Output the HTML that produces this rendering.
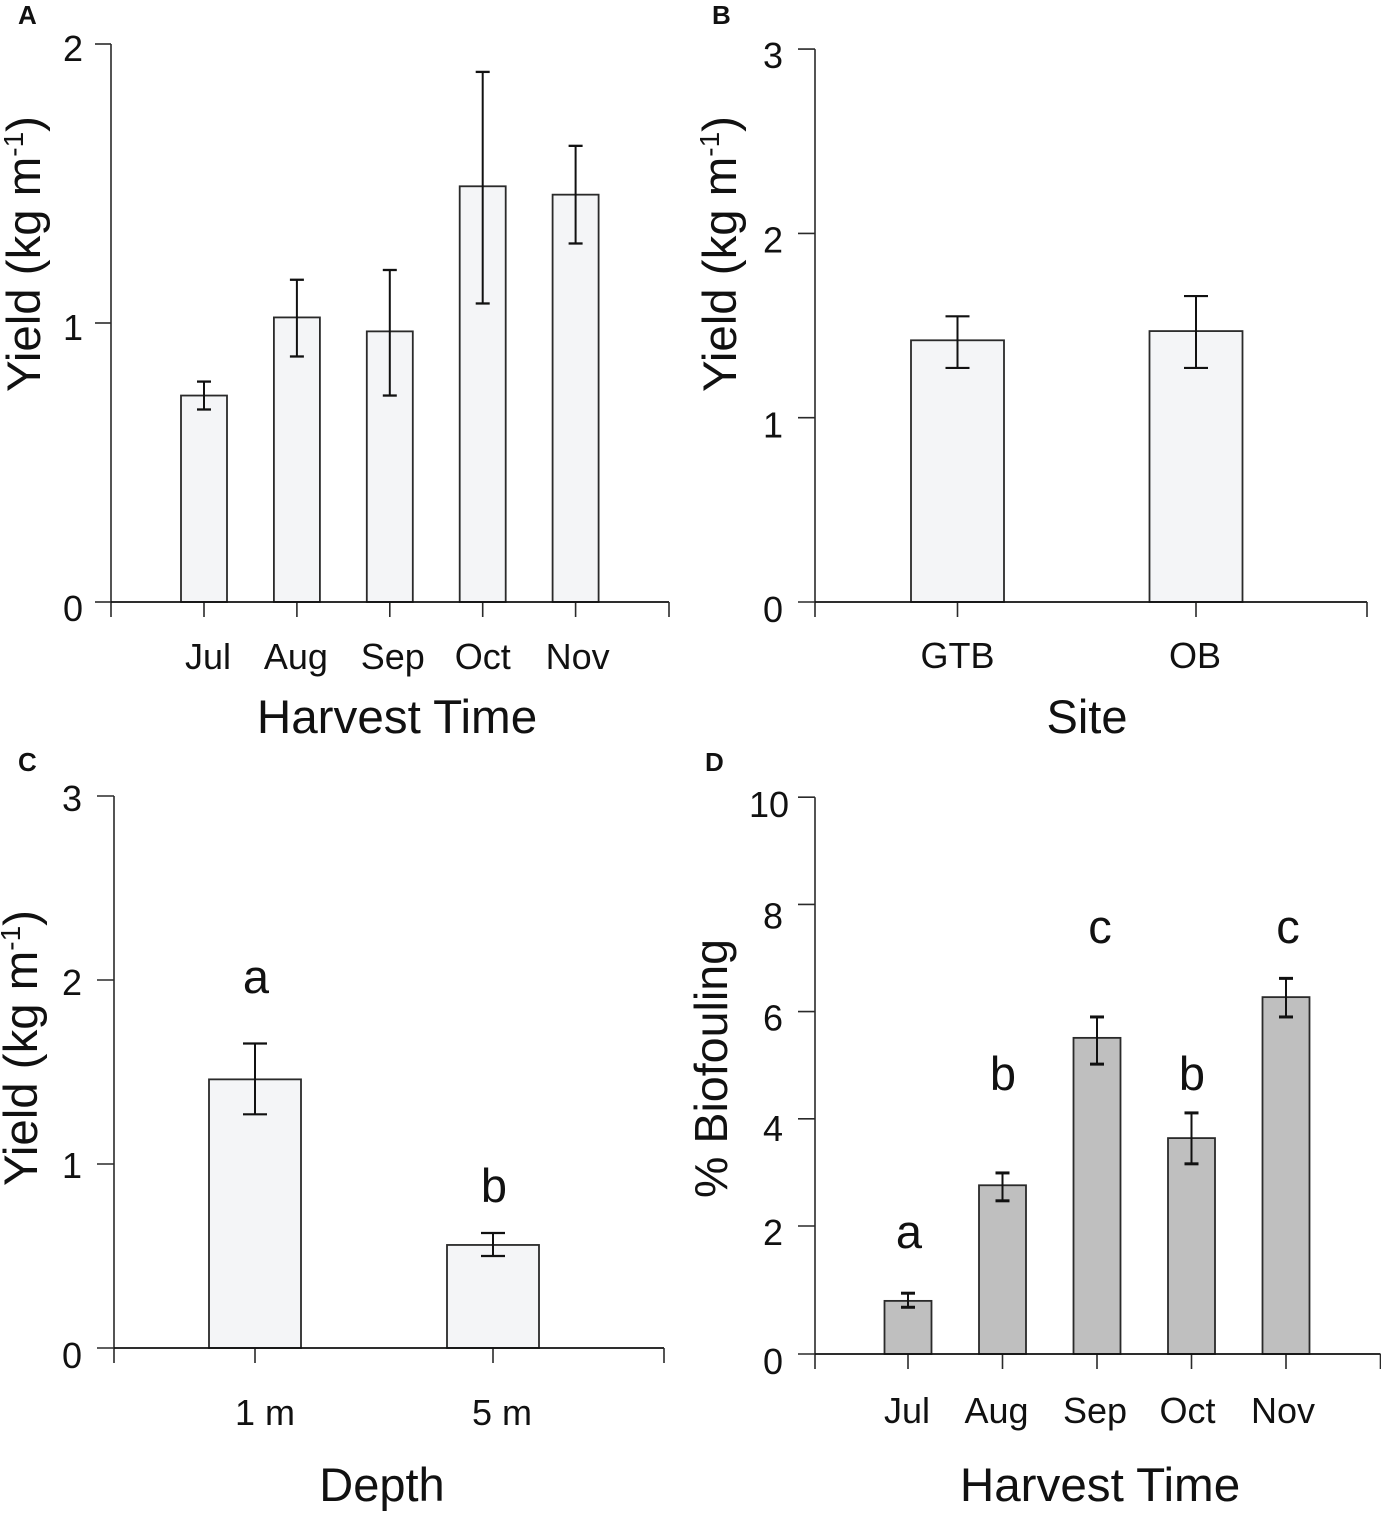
<!DOCTYPE html>
<html lang="en">
<head>
<meta charset="utf-8">
<title>Yield and biofouling bar charts</title>
<style>
html,body{margin:0;padding:0;background:#fff;}
svg{display:block;filter:blur(0.35px);}
text{font-family:"Liberation Sans",sans-serif;fill:#111;}
</style>
</head>
<body>
<svg id="figure" xmlns="http://www.w3.org/2000/svg" width="1381" height="1518" viewBox="0 0 1381 1518">
  <rect x="0" y="0" width="1381" height="1518" fill="#fff"/>
  <text x="18" y="24" font-size="26" font-weight="700">A</text>
  <text x="712" y="24" font-size="26" font-weight="700">B</text>
  <text x="18" y="771" font-size="26" font-weight="700">C</text>
  <text x="705" y="771" font-size="26" font-weight="700">D</text>

  <text transform="translate(40 392) rotate(-90)" font-size="47.4">Yield (kg m<tspan font-size="28" dy="-17">-1</tspan><tspan dy="17">)</tspan></text>
  <text transform="translate(736 392) rotate(-90)" font-size="47.4">Yield (kg m<tspan font-size="28" dy="-17">-1</tspan><tspan dy="17">)</tspan></text>
  <text transform="translate(37 1186) rotate(-90)" font-size="47.4">Yield (kg m<tspan font-size="28" dy="-17">-1</tspan><tspan dy="17">)</tspan></text>
  <text transform="translate(727 1198) rotate(-90)" font-size="46.6">% Biofouling</text>

  <text x="397" y="733" font-size="47.6" text-anchor="middle">Harvest Time</text>
  <text x="1087" y="733" font-size="47" text-anchor="middle">Site</text>
  <text x="382" y="1501" font-size="47" text-anchor="middle">Depth</text>
  <text x="1100" y="1501" font-size="47.6" text-anchor="middle">Harvest Time</text>
  <g id="marks"></g>
</svg>
<script>
// Panel A: yield by harvest time
const panelACategories = ["Jul", "Aug", "Sep", "Oct", "Nov"];
const panelAMeans = [0.74, 1.02, 0.97, 1.49, 1.46];
const panelAUpper = [0.79, 1.155, 1.19, 1.90, 1.635];
const panelALower = [0.69, 0.88, 0.74, 1.07, 1.285];
const panelATicks = [0, 1, 2];

// Panel B: yield by site
const panelBCategories = ["GTB", "OB"];
const panelBMeans = [1.42, 1.47];
const panelBUpper = [1.55, 1.66];
const panelBLower = [1.27, 1.27];
const panelBTicks = [0, 1, 2, 3];

// Panel C: yield by depth
const panelCCategories = ["1 m", "5 m"];
const panelCMeans = [1.46, 0.56];
const panelCUpper = [1.655, 0.625];
const panelCLower = [1.27, 0.50];
const panelCTicks = [0, 1, 2, 3];
const panelCLetters = ["a", "b"];

// Panel D: biofouling by harvest time
const panelDCategories = ["Jul", "Aug", "Sep", "Oct", "Nov"];
const panelDMeans = [0.83, 2.76, 5.51, 3.64, 6.27];
const panelDUpper = [0.95, 2.99, 5.90, 4.11, 6.62];
const panelDLower = [0.73, 2.47, 5.02, 3.16, 5.90];
const panelDTicks = [0, 2, 4, 6, 8, 10];
const panelDLetters = ["a", "b", "c", "b", "c"];

const SVG_NS = "http://www.w3.org/2000/svg";
const marks = document.getElementById("marks");

function line(x1, y1, x2, y2, stroke, width) {
  const el = document.createElementNS(SVG_NS, "line");
  el.setAttribute("x1", x1);
  el.setAttribute("y1", y1);
  el.setAttribute("x2", x2);
  el.setAttribute("y2", y2);
  el.setAttribute("stroke", stroke);
  el.setAttribute("stroke-width", width);
  marks.appendChild(el);
  return el;
}

function label(x, y, str, size, anchor) {
  const el = document.createElementNS(SVG_NS, "text");
  el.setAttribute("x", x);
  el.setAttribute("y", y);
  el.setAttribute("font-size", size);
  el.setAttribute("text-anchor", anchor);
  el.textContent = str;
  marks.appendChild(el);
  return el;
}

function drawPanel(p) {
  const xAt = function (i) { return p.firstX + p.stepX * i; };

  // axes
  const yAxis = line(p.axisX, p.yScale(p.ticks[p.ticks.length - 1]), p.axisX, p.yScale(0) + p.tickX, "#2a2a2a", 1.6);
  
  

  p.ticks.forEach(function (t, k) {
    const ty = p.yScale(t);
    const tick = line(p.axisX - p.tickY, ty, p.axisX, ty, "#2a2a2a", 1.6);
    
    
    const txt = label(p.yLabelRight + (t >= 10 ? 6 : 0), ty + p.yLabelDy[k], String(t), 36, "end");
    
    
  });

  // bars
  p.categories.forEach(function (c, i) {
    const cx = xAt(i);
    const top = p.yScale(p.means[i]);
    const bar = document.createElementNS(SVG_NS, "rect");
    bar.setAttribute("x", cx - p.barW / 2);
    bar.setAttribute("y", top);
    bar.setAttribute("width", p.barW);
    bar.setAttribute("height", p.yScale(0) - top);
    bar.setAttribute("fill", p.fill);
    bar.setAttribute("stroke", "#2a2a2a");
    bar.setAttribute("stroke-width", 1.8);
    
    
    marks.appendChild(bar);

    const yU = p.yScale(p.upper[i]);
    const yL = p.yScale(p.lower[i]);
    const stem = line(cx, yU, cx, yL, "#111", 2);
    
    
    const capU = line(cx - p.capW / 2, yU, cx + p.capW / 2, yU, "#111", p.capT);
    
    
    const capL = line(cx - p.capW / 2, yL, cx + p.capW / 2, yL, "#111", p.capT);
    
    

    const xt = line(cx, p.yScale(0), cx, p.yScale(0) + p.tickX, "#2a2a2a", 1.6);
    
    
    const xl = label(cx + p.xLabelDx[i], p.xLabelY, c, 36, "middle");
    
    

    if (p.letters) {
      const lt = label(cx + p.letterDx[i], p.letterY[i], p.letters[i], 47, "middle");
      
      
    }
  });

  // x axis drawn last so it sits over bar bottoms
  const xAxis = line(p.axisX, p.yScale(0), p.endX, p.yScale(0), "#111", 1.8);
  
  
  const endTick = line(p.endX, p.yScale(0), p.endX, p.yScale(0) + p.tickX, "#2a2a2a", 1.6);
  
  
}

drawPanel({
  id: "panel-a", categories: panelACategories, means: panelAMeans, upper: panelAUpper, lower: panelALower, ticks: panelATicks,
  yScale: function (v) { return 602 - v * 279; },
  axisX: 111, endX: 669, firstX: 204, stepX: 92.9, barW: 46, capW: 14, capT: 2.3, tickX: 15, tickY: 16,
  yLabelRight: 83, yLabelDy: [19, 17, 17], xLabelY: 669, xLabelDx: [4, -1, 3, 0, 2], fill: "#f4f5f7"
});

drawPanel({
  id: "panel-b", categories: panelBCategories, means: panelBMeans, upper: panelBUpper, lower: panelBLower, ticks: panelBTicks,
  yScale: function (v) { return 602 - v * 184.3; },
  axisX: 815, endX: 1367, firstX: 957.5, stepX: 238.5, barW: 93, capW: 24, capT: 2.2, tickX: 15, tickY: 17,
  yLabelRight: 783, yLabelDy: [20, 20, 19, 19], xLabelY: 668, xLabelDx: [0, -1], fill: "#f4f5f7"
});

drawPanel({
  id: "panel-c", categories: panelCCategories, means: panelCMeans, upper: panelCUpper, lower: panelCLower, ticks: panelCTicks,
  yScale: function (v) { return 1348 - v * 184; },
  axisX: 114, endX: 664, firstX: 255, stepX: 238, barW: 92, capW: 24, capT: 2.2, tickX: 15, tickY: 17,
  yLabelRight: 82, yLabelDy: [20, 14, 15, 15], xLabelY: 1425, xLabelDx: [10, 9], fill: "#f4f5f7",
  letters: panelCLetters, letterDx: [1, 1], letterY: [993, 1202]
});

drawPanel({
  id: "panel-d", categories: panelDCategories, means: panelDMeans, upper: panelDUpper, lower: panelDLower, ticks: panelDTicks,
  // the printed axis has a wider 0-2 interval than the rest, so the scale is piecewise
  yScale: function (v) { return v <= 2 ? 1354 - v * 64 : 1226 - (v - 2) * 53.6; },
  axisX: 815, endX: 1380.5, firstX: 908, stepX: 94.5, barW: 47, capW: 14, capT: 3, tickX: 15, tickY: 17,
  yLabelRight: 783, yLabelDy: [20, 19, 22, 19, 24, 20], xLabelY: 1423, xLabelDx: [-1, -6, -2, -4, -3], fill: "#bfbfbf",
  letters: panelDLetters, letterDx: [1, 0.5, 3, 0.5, 2], letterY: [1248, 1090, 943, 1090, 943]
});
</script>
</body>
</html>
